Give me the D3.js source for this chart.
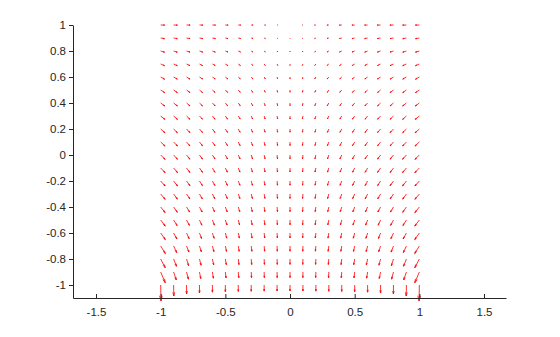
<!DOCTYPE html>
<html>
<head>
<meta charset="utf-8">
<script src="https://cdn.jsdelivr.net/npm/d3@7"></script>
<style>
  body { margin: 0; background: #fff; }
  svg text { font-family: "Liberation Sans", Arial, sans-serif; font-size: 11px; fill: #262626; }
</style>
</head>
<body>
<div id="chart"></div>
<script>
// grid positions
var xGrid = [-1, -0.9, -0.8, -0.7, -0.6, -0.5, -0.4, -0.3, -0.2, -0.1, 0, 0.1, 0.2, 0.3, 0.4, 0.5, 0.6, 0.7, 0.8, 0.9, 1];
var yGrid = [1, 0.9, 0.8, 0.7, 0.6, 0.5, 0.4, 0.3, 0.2, 0.1, 0, -0.1, -0.2, -0.3, -0.4, -0.5, -0.6, -0.7, -0.8, -0.9, -1];

// vector components, one row per yGrid value
var U = [
  [4.0,3.8,3.6,3.4,3.1,2.8,2.4,1.9,1.3,0.7,0,-0.7,-1.3,-1.9,-2.4,-2.8,-3.1,-3.4,-3.6,-3.8,-4.0],
  [3.9,3.7,3.5,3.3,3.0,2.7,2.3,1.8,1.2,0.6,0,-0.6,-1.2,-1.8,-2.3,-2.7,-3.0,-3.3,-3.5,-3.7,-3.9],
  [3.9,3.7,3.5,3.2,2.9,2.6,2.2,1.7,1.2,0.6,0,-0.6,-1.2,-1.7,-2.2,-2.6,-2.9,-3.2,-3.5,-3.7,-3.9],
  [3.9,3.7,3.4,3.1,2.8,2.5,2.1,1.7,1.1,0.6,0,-0.6,-1.1,-1.7,-2.1,-2.5,-2.8,-3.1,-3.4,-3.7,-3.9],
  [3.9,3.7,3.4,3.1,2.8,2.4,2.0,1.6,1.1,0.5,0,-0.5,-1.1,-1.6,-2.0,-2.4,-2.8,-3.1,-3.4,-3.7,-3.9],
  [4.0,3.7,3.4,3.0,2.7,2.3,2.0,1.5,1.0,0.5,0,-0.5,-1.0,-1.5,-2.0,-2.3,-2.7,-3.0,-3.4,-3.7,-4.0],
  [4.1,3.8,3.4,3.0,2.7,2.3,1.9,1.5,1.0,0.5,0,-0.5,-1.0,-1.5,-1.9,-2.3,-2.7,-3.0,-3.4,-3.8,-4.1],
  [4.2,3.8,3.4,3.0,2.6,2.2,1.9,1.4,1.0,0.5,0,-0.5,-1.0,-1.4,-1.9,-2.2,-2.6,-3.0,-3.4,-3.8,-4.2],
  [4.3,3.8,3.4,3.0,2.6,2.2,1.8,1.4,0.9,0.5,0,-0.5,-0.9,-1.4,-1.8,-2.2,-2.6,-3.0,-3.4,-3.8,-4.3],
  [4.4,3.9,3.4,3.0,2.6,2.2,1.8,1.4,0.9,0.5,0,-0.5,-0.9,-1.4,-1.8,-2.2,-2.6,-3.0,-3.4,-3.9,-4.4],
  [4.4,3.9,3.4,3.0,2.6,2.2,1.8,1.3,0.9,0.4,0,-0.4,-0.9,-1.3,-1.8,-2.2,-2.6,-3.0,-3.4,-3.9,-4.4],
  [4.5,3.9,3.4,3.0,2.5,2.1,1.7,1.3,0.9,0.4,0,-0.4,-0.9,-1.3,-1.7,-2.1,-2.5,-3.0,-3.4,-3.9,-4.5],
  [4.5,3.9,3.4,2.9,2.5,2.1,1.7,1.3,0.8,0.4,0,-0.4,-0.8,-1.3,-1.7,-2.1,-2.5,-2.9,-3.4,-3.9,-4.5],
  [4.5,3.8,3.3,2.8,2.4,2.0,1.6,1.2,0.8,0.4,0,-0.4,-0.8,-1.2,-1.6,-2.0,-2.4,-2.8,-3.3,-3.8,-4.5],
  [4.5,3.7,3.1,2.7,2.2,1.8,1.5,1.1,0.7,0.4,0,-0.4,-0.7,-1.1,-1.5,-1.8,-2.2,-2.7,-3.1,-3.7,-4.5],
  [4.6,3.5,2.9,2.4,2.0,1.7,1.3,1.0,0.7,0.3,0,-0.3,-0.7,-1.0,-1.3,-1.7,-2.0,-2.4,-2.9,-3.5,-4.6],
  [4.7,3.3,2.6,2.1,1.7,1.4,1.1,0.8,0.6,0.3,0,-0.3,-0.6,-0.8,-1.1,-1.4,-1.7,-2.1,-2.6,-3.3,-4.7],
  [4.7,3.1,2.4,1.9,1.5,1.2,0.9,0.7,0.5,0.2,0,-0.2,-0.5,-0.7,-0.9,-1.2,-1.5,-1.9,-2.4,-3.1,-4.7],
  [4.6,2.9,2.1,1.6,1.3,1.0,0.7,0.5,0.3,0.2,0,-0.2,-0.3,-0.5,-0.7,-1.0,-1.3,-1.6,-2.1,-2.9,-4.6],
  [4.6,2.7,1.9,1.3,1.0,0.7,0.5,0.3,0.2,0.1,0,-0.1,-0.2,-0.3,-0.5,-0.7,-1.0,-1.3,-1.9,-2.7,-4.6],
  [0.3,0.2,0.1,0,0,0,0,0,0,0,0,0,0,0,0,0,0,0,-0.1,-0.2,-0.3]
];
var V = [
  [-0.1,-0.1,-0.1,-0.1,-0.1,-0.1,-0.1,-0.1,-0.1,0,0,0,-0.1,-0.1,-0.1,-0.1,-0.1,-0.1,-0.1,-0.1,-0.1],
  [-0.7,-0.7,-0.6,-0.6,-0.6,-0.6,-0.5,-0.5,-0.5,-0.5,-0.5,-0.5,-0.5,-0.5,-0.5,-0.6,-0.6,-0.6,-0.6,-0.7,-0.7],
  [-1.2,-1.2,-1.1,-1.1,-1.1,-1.0,-1.0,-1.0,-1.0,-1.0,-1.0,-1.0,-1.0,-1.0,-1.0,-1.0,-1.1,-1.1,-1.1,-1.2,-1.2],
  [-1.7,-1.7,-1.6,-1.6,-1.5,-1.5,-1.5,-1.4,-1.4,-1.4,-1.4,-1.4,-1.4,-1.4,-1.5,-1.5,-1.5,-1.6,-1.6,-1.7,-1.7],
  [-2.2,-2.1,-2.1,-2.0,-2.0,-1.9,-1.9,-1.9,-1.8,-1.8,-1.8,-1.8,-1.8,-1.9,-1.9,-1.9,-2.0,-2.0,-2.1,-2.1,-2.2],
  [-2.6,-2.6,-2.5,-2.5,-2.4,-2.4,-2.3,-2.3,-2.2,-2.2,-2.2,-2.2,-2.2,-2.3,-2.3,-2.4,-2.4,-2.5,-2.5,-2.6,-2.6],
  [-3.0,-3.0,-2.9,-2.9,-2.8,-2.8,-2.7,-2.7,-2.6,-2.6,-2.6,-2.6,-2.6,-2.7,-2.7,-2.8,-2.8,-2.9,-2.9,-3.0,-3.0],
  [-3.4,-3.4,-3.3,-3.2,-3.2,-3.1,-3.0,-3.0,-2.9,-2.9,-2.9,-2.9,-2.9,-3.0,-3.0,-3.1,-3.2,-3.2,-3.3,-3.4,-3.4],
  [-3.8,-3.7,-3.6,-3.5,-3.5,-3.4,-3.3,-3.3,-3.2,-3.2,-3.2,-3.2,-3.2,-3.3,-3.3,-3.4,-3.5,-3.5,-3.6,-3.7,-3.8],
  [-4.1,-4.0,-3.9,-3.8,-3.8,-3.7,-3.6,-3.6,-3.5,-3.5,-3.5,-3.5,-3.5,-3.6,-3.6,-3.7,-3.8,-3.8,-3.9,-4.0,-4.1],
  [-4.4,-4.3,-4.2,-4.1,-4.0,-4.0,-3.9,-3.9,-3.8,-3.8,-3.8,-3.8,-3.8,-3.9,-3.9,-4.0,-4.0,-4.1,-4.2,-4.3,-4.4],
  [-4.7,-4.6,-4.5,-4.4,-4.3,-4.2,-4.1,-4.1,-4.0,-4.0,-4.0,-4.0,-4.0,-4.1,-4.1,-4.2,-4.3,-4.4,-4.5,-4.6,-4.7],
  [-5.0,-4.9,-4.7,-4.6,-4.5,-4.4,-4.3,-4.3,-4.2,-4.2,-4.2,-4.2,-4.2,-4.3,-4.3,-4.4,-4.5,-4.6,-4.7,-4.9,-5.0],
  [-5.3,-5.1,-4.9,-4.8,-4.7,-4.6,-4.5,-4.5,-4.4,-4.4,-4.4,-4.4,-4.4,-4.5,-4.5,-4.6,-4.7,-4.8,-4.9,-5.1,-5.3],
  [-5.6,-5.3,-5.1,-5.0,-4.9,-4.8,-4.7,-4.7,-4.6,-4.6,-4.6,-4.6,-4.6,-4.7,-4.7,-4.8,-4.9,-5.0,-5.1,-5.3,-5.6],
  [-6.1,-5.6,-5.4,-5.2,-5.1,-5.0,-4.9,-4.9,-4.8,-4.8,-4.8,-4.8,-4.8,-4.9,-4.9,-5.0,-5.1,-5.2,-5.4,-5.6,-6.1],
  [-6.7,-6.0,-5.7,-5.5,-5.3,-5.2,-5.1,-5.1,-5.0,-5.0,-5.0,-5.0,-5.0,-5.1,-5.1,-5.2,-5.3,-5.5,-5.7,-6.0,-6.7],
  [-7.6,-6.6,-6.1,-5.8,-5.6,-5.4,-5.3,-5.3,-5.2,-5.2,-5.2,-5.2,-5.2,-5.3,-5.3,-5.4,-5.6,-5.8,-6.1,-6.6,-7.6],
  [-8.8,-7.3,-6.7,-6.2,-5.9,-5.7,-5.6,-5.5,-5.4,-5.4,-5.4,-5.4,-5.4,-5.5,-5.6,-5.7,-5.9,-6.2,-6.7,-7.3,-8.8],
  [-10.8,-8.0,-7.2,-6.6,-6.2,-5.9,-5.8,-5.7,-5.6,-5.6,-5.6,-5.6,-5.6,-5.7,-5.8,-5.9,-6.2,-6.6,-7.2,-8.0,-10.8],
  [-16,-11,-9,-8,-7.2,-6.8,-6.5,-6.3,-6.1,-6.0,-6.0,-6.0,-6.1,-6.3,-6.5,-6.8,-7.2,-8,-9,-11,-16]
];

// tick labels
var xTicks = [-1.5, -1, -0.5, 0, 0.5, 1, 1.5];
var yTicks = [-1, -0.8, -0.6, -0.4, -0.2, 0, 0.2, 0.4, 0.6, 0.8, 1];

// quiver scale factor (data units per vector unit)
var arrowScale = 1 / 130;

var svgWidth = 560;
var svgHeight = 337;
var margin = { top: 25, right: 54, bottom: 39, left: 73 };
var chartWidth = svgWidth - margin.left - margin.right;
var chartHeight = svgHeight - margin.top - margin.bottom;

var svg = d3.select("#chart")
  .append("svg")
  .attr("width", svgWidth)
  .attr("height", svgHeight);

var chartGroup = svg.append("g")
  .attr("transform", "translate(" + margin.left + "," + margin.top + ")");

var xScale = d3.scaleLinear().domain([-1.678, 1.67]).range([0, chartWidth]);
var yScale = d3.scaleLinear().domain([-1.1, 1]).range([chartHeight, 0]);

// build arrow list
var arrows = [];
yGrid.forEach(function (y, i) {
  xGrid.forEach(function (x, j) {
    arrows.push({ x: x, y: y, u: U[i][j], v: V[i][j] });
  });
});

// arrowhead shape like matlab quiver
var alpha = 0.33, beta = 0.25;
function arrowPath(d) {
  var x0 = xScale(d.x), y0 = yScale(d.y);
  var x1 = xScale(d.x + d.u * arrowScale), y1 = yScale(d.y + d.v * arrowScale);
  var du = x1 - x0, dv = y1 - y0;
  if (Math.abs(du) < 1e-6 && Math.abs(dv) < 1e-6) return "";
  var hx1 = x1 - alpha * (du + beta * dv), hy1 = y1 - alpha * (dv - beta * du);
  var hx2 = x1 - alpha * (du - beta * dv), hy2 = y1 - alpha * (dv + beta * du);
  return "M" + x0 + "," + y0 + "L" + x1 + "," + y1 +
    "M" + hx1 + "," + hy1 + "L" + x1 + "," + y1 + "L" + hx2 + "," + hy2;
}

chartGroup.selectAll(".arrow")
  .data(arrows)
  .enter()
  .append("path")
  .attr("class", "arrow")
  .attr("d", arrowPath)
  .attr("fill", "none")
  .attr("stroke", "#ff0000")
  .attr("stroke-width", 0.8);

// axes
var bottomAxis = d3.axisBottom(xScale).tickValues(xTicks).tickSizeInner(-4).tickSizeOuter(0)
  .tickFormat(function (d) { return String(d); });
var leftAxis = d3.axisLeft(yScale).tickValues(yTicks).tickSizeInner(4).tickSizeOuter(0)
  .tickFormat(function (d) { return String(d); });

var gx = chartGroup.append("g")
  .attr("transform", "translate(0," + chartHeight + ")")
  .call(bottomAxis);
gx.select(".domain").attr("stroke", "#262626");
gx.selectAll(".tick line").attr("stroke", "#262626");
gx.selectAll(".tick text").attr("y", 10).attr("dy", "0.71em")
  .style("font-family", "Liberation Sans, Arial, sans-serif").style("font-size", "11.5px").attr("fill", "#262626");

var gy = chartGroup.append("g")
  .call(leftAxis);
gy.select(".domain").attr("stroke", "#262626");
gy.selectAll(".tick line").attr("stroke", "#262626");
gy.selectAll(".tick text").attr("x", -7)
  .style("font-family", "Liberation Sans, Arial, sans-serif").style("font-size", "11.5px").attr("fill", "#262626");
</script>
</body>
</html>
